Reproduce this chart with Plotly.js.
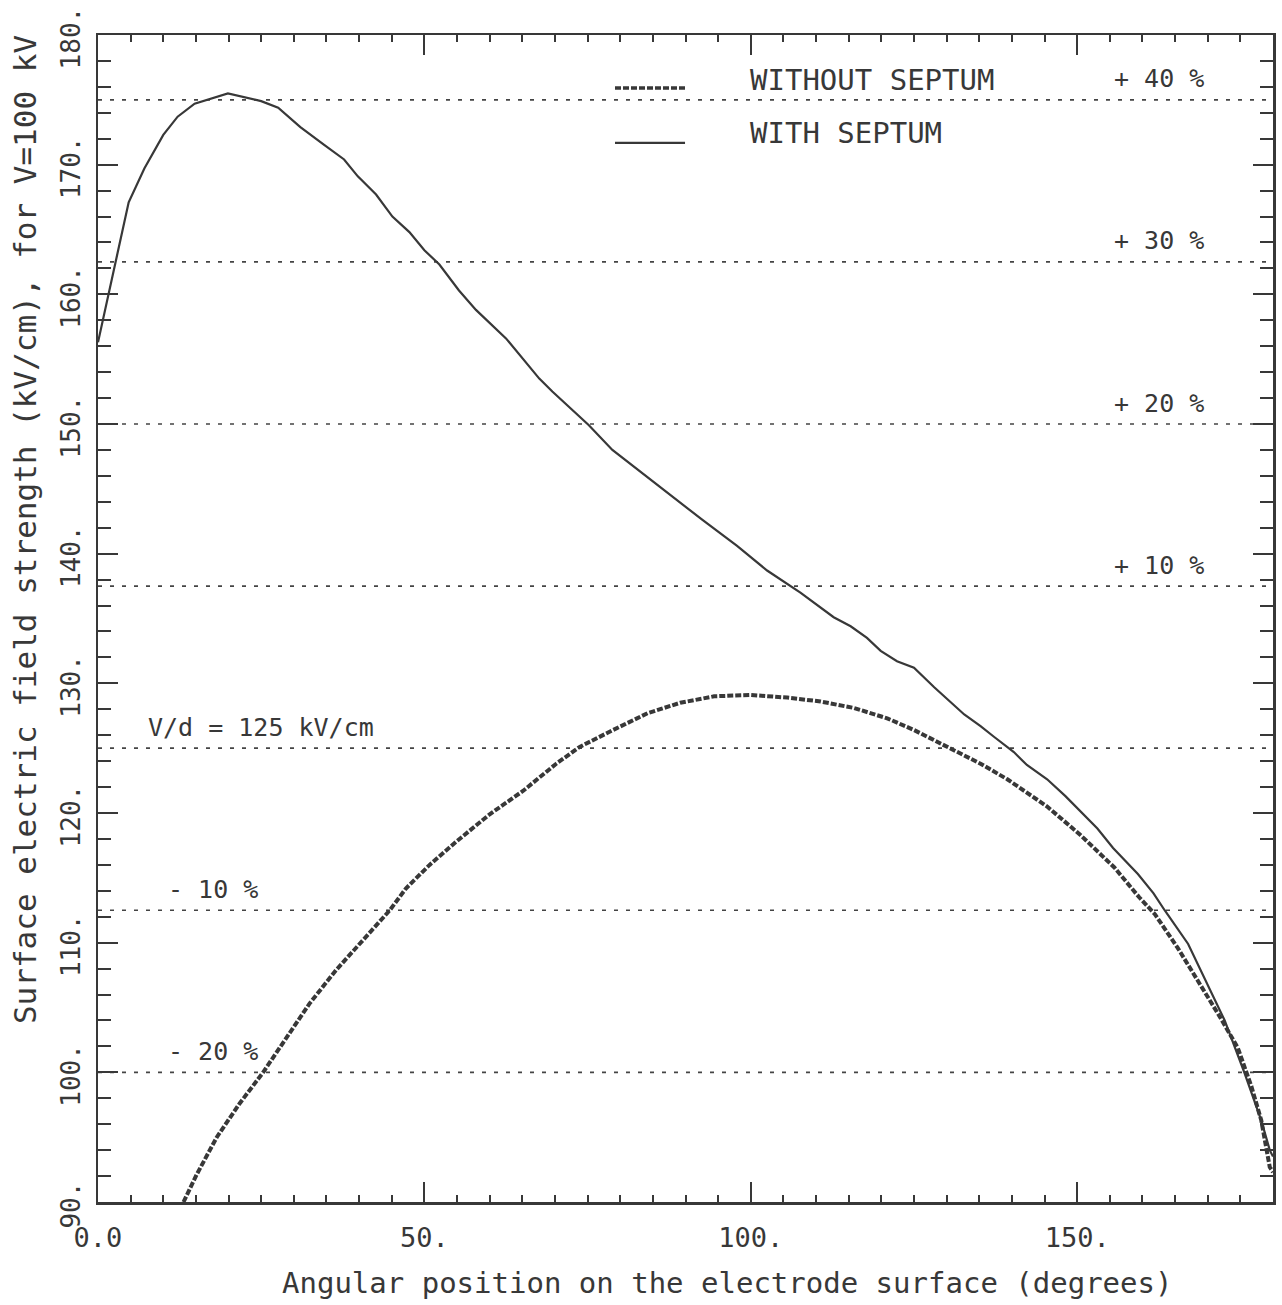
<!DOCTYPE html>
<html><head><meta charset="utf-8">
<script src="https://cdn.plot.ly/plotly-3.0.1.min.js"></script>
<style>html,body{margin:0;padding:0;background:#fff}</style>
</head><body><div id="chart" style="width:1282px;height:1305px"></div>
<script>
// WITH SEPTUM (solid)
const withSeptumX = [0, 4.7, 7.1, 10.0, 12.2, 14.8, 19.9, 25.0, 27.6, 31.0, 34.7, 37.7, 39.8, 42.6, 45.1, 47.7, 50.0, 52.3, 55.3, 57.9, 62.5, 67.6, 69.6, 73.2, 75.2, 78.8, 83.4, 87.6, 92.6, 97.9, 102.5, 107.6, 112.7, 115.3, 117.8, 119.9, 122.4, 125.0, 128.1, 132.7, 135.2, 137.2, 140.3, 142.3, 145.4, 148.2, 150.5, 153.1, 155.5, 159.3, 161.7, 163.4, 167.0, 170.0, 172.6, 175.6, 178.2, 179.5, 180];
const withSeptumY = [156.3, 167.1, 169.7, 172.3, 173.7, 174.7, 175.5, 174.9, 174.4, 172.9, 171.5, 170.4, 169.1, 167.7, 166.0, 164.8, 163.4, 162.3, 160.3, 158.8, 156.6, 153.5, 152.5, 150.8, 149.9, 148.0, 146.2, 144.6, 142.6, 140.6, 138.7, 137.0, 135.1, 134.4, 133.5, 132.5, 131.7, 131.2, 129.7, 127.6, 126.7, 125.9, 124.7, 123.7, 122.6, 121.3, 120.1, 118.8, 117.3, 115.3, 113.8, 112.5, 109.9, 106.8, 104.0, 100.0, 96.3, 94.0, 93.5];
// WITHOUT SEPTUM (dashed)
const withoutSeptumX = [13.1, 15.1, 18.2, 21.7, 25.3, 28.9, 32.4, 36.5, 40.6, 44.7, 47.2, 50.8, 54.9, 60.0, 65.1, 70.2, 73.8, 76.5, 78.9, 84.2, 89.2, 94.4, 100.0, 105.6, 110.7, 115.8, 120.9, 125.0, 130.1, 135.2, 139.3, 143.4, 145.4, 150.5, 153.1, 155.7, 159.5, 161.9, 165.4, 168.5, 171.6, 174.6, 176.7, 178.2, 179.5, 180];
const withoutSeptumY = [90.0, 92.1, 95.0, 97.6, 100.0, 102.7, 105.3, 107.9, 110.2, 112.5, 114.2, 116.0, 117.8, 119.9, 121.7, 123.8, 125.1, 125.8, 126.4, 127.7, 128.5, 129.0, 129.1, 128.9, 128.6, 128.1, 127.3, 126.4, 125.1, 123.8, 122.6, 121.2, 120.5, 118.3, 117.1, 115.8, 113.5, 112.2, 109.6, 107.1, 104.5, 101.9, 98.9, 96.3, 92.7, 92.3];

// reference levels (V/d = 125 kV/cm and +/- percentages)
const refLevels = [175, 162.5, 150, 137.5, 125, 112.5, 100];
const refLabels = ['+ 40 %', '+ 30 %', '+ 20 %', '+ 10 %', 'V/d = 125 kV/cm', '- 10 %', '- 20 %'];
const refLabelX = [162.5, 162.5, 162.5, 162.5, 7.4, 10.4, 10.4];
const refLabelAnchor = ['center', 'center', 'center', 'center', 'left', 'left', 'left'];

const xTickVals = [0, 50, 100, 150];
const xTickText = ['0.0', '50.', '100.', '150.'];
const yTickVals = [90, 100, 110, 120, 130, 140, 150, 160, 170, 180];
const yTickText = ['90.', '100.', '110.', '120.', '130.', '140.', '150.', '160.', '170.', '180.'];

const legendNames = ['WITHOUT SEPTUM', 'WITH SEPTUM'];
const xTitle = 'Angular position on the electrode surface (degrees)';
const yTitle = 'Surface electric field strength (kV/cm), for V=100 kV';

const INK = '#383838';
const FONT = 'DejaVu Sans Mono, monospace';

const xMinor = []; for (let v = 0; v <= 180; v += 5) xMinor.push(v);
const xMid = []; for (let v = 10; v < 180; v += 10) if (v % 50) xMid.push(v);
const yMinor = []; for (let v = 90; v <= 180; v += 2) yMinor.push(v);

const traces = [
  {x: withoutSeptumX, y: withoutSeptumY, name: legendNames[0], mode: 'lines', type: 'scatter',
   line: {color: INK, width: 4, dash: '6px,2px'}, showlegend: false},
  {x: withSeptumX, y: withSeptumY, name: legendNames[1], mode: 'lines', type: 'scatter',
   line: {color: INK, width: 2.2}, showlegend: false}
];

const shapes = refLevels.map(v => ({type: 'line', xref: 'paper', x0: 0, x1: 1, yref: 'y', y0: v, y1: v,
  line: {color: '#444', width: 1.6, dash: '4px,8px'}, layer: 'below'}));
// legend samples
shapes.push({type: 'line', xref: 'paper', yref: 'paper', x0: 0.44, x1: 0.4996, y0: 0.9546, y1: 0.9546,
  line: {color: INK, width: 3.4, dash: '6px,2px'}});
shapes.push({type: 'line', xref: 'paper', yref: 'paper', x0: 0.44, x1: 0.4996, y0: 0.9075, y1: 0.9075,
  line: {color: INK, width: 2.2}});

const annotations = refLevels.map((v, i) => ({x: refLabelX[i], y: v, xref: 'x', yref: 'y', text: refLabels[i],
  showarrow: false, xanchor: refLabelAnchor[i], yanchor: 'middle', yshift: 21,
  font: {family: FONT, size: 25, color: INK}}));
annotations.push({xref: 'paper', yref: 'paper', x: 0.553, y: 0.9614, xanchor: 'left', yanchor: 'middle',
  text: legendNames[0], showarrow: false, font: {family: FONT, size: 29, color: INK}});
annotations.push({xref: 'paper', yref: 'paper', x: 0.553, y: 0.916, xanchor: 'left', yanchor: 'middle',
  text: legendNames[1], showarrow: false, font: {family: FONT, size: 29, color: INK}});
// axis titles (placed as in the original, off-centre)
annotations.push({xref: 'paper', yref: 'paper', x: 0.5353, y: -0.0694, xanchor: 'center', yanchor: 'middle',
  text: xTitle, showarrow: false, font: {family: FONT, size: 29, color: INK}});
annotations.push({xref: 'paper', yref: 'paper', x: -0.0621, y: 0.5758, xanchor: 'center', yanchor: 'middle',
  textangle: -90, text: yTitle, showarrow: false, font: {family: FONT, size: 31, color: INK}});

const layout = {
  width: 1282, height: 1305,
  margin: {l: 98, r: 9, t: 35, b: 103},
  paper_bgcolor: '#fff', plot_bgcolor: '#fff',
  font: {family: FONT, color: INK},
  showlegend: false,
  xaxis: {
    range: [0, 180], showline: true, linecolor: INK, linewidth: 2.5, mirror: 'ticks',
    ticks: 'inside', tickmode: 'array', tickvals: xTickVals, ticktext: xTickText,
    ticklen: 20, tickwidth: 2, tickcolor: INK, ticklabelstandoff: 10, ticklabeloverflow: 'allow',
    tickfont: {family: FONT, size: 27, color: INK},
    minor: {tickmode: 'array', tickvals: xMinor, ticks: 'inside', ticklen: 7, tickwidth: 2, tickcolor: INK, showgrid: false},
    showgrid: false, zeroline: false
  },
  xaxis2: {
    range: [0, 180], overlaying: 'x', anchor: 'y', side: 'bottom', showline: false, mirror: 'ticks',
    ticks: 'inside', tickmode: 'array', tickvals: xMid, ticklen: 13, tickwidth: 2, tickcolor: INK,
    showticklabels: false, showgrid: false, zeroline: false
  },
  yaxis: {
    range: [90, 180], showline: true, linecolor: INK, linewidth: 2.5, mirror: 'ticks',
    ticks: 'inside', tickmode: 'array', tickvals: yTickVals, ticktext: yTickText,
    ticklen: 20, tickwidth: 2, tickcolor: INK, tickangle: -90, ticklabelstandoff: 5, ticklabelshift: 7,
    ticklabeloverflow: 'allow',
    tickfont: {family: FONT, size: 26, color: INK},
    minor: {tickmode: 'array', tickvals: yMinor, ticks: 'inside', ticklen: 13, tickwidth: 2, tickcolor: INK, showgrid: false},
    showgrid: false, zeroline: false
  },
  shapes: shapes,
  annotations: annotations
};

Plotly.newPlot('chart', traces, layout, {displayModeBar: false, staticPlot: true});
</script></body></html>
